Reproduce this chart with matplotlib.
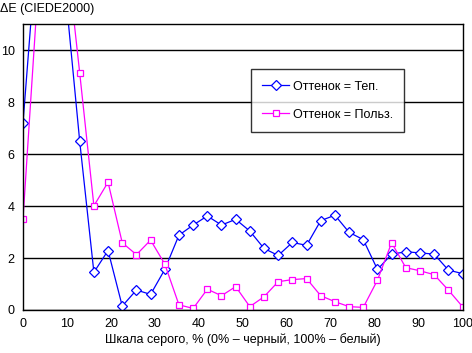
import matplotlib
matplotlib.use("Agg")
import matplotlib.pyplot as plt

plt.rcParams['font.family'] = ['Liberation Sans', 'DejaVu Sans']

# grey level, % (32 steps)
gray = [0, 3.23, 6.45, 9.68, 12.9, 16.13, 19.35, 22.58, 25.81, 29.03, 32.26,
        35.48, 38.71, 41.94, 45.16, 48.39, 51.61, 54.84, 58.06, 61.29, 64.52,
        67.74, 70.97, 74.19, 77.42, 80.65, 83.87, 87.1, 90.32, 93.55, 96.77, 100]

de_tep = [7.2, 14.2, 18.0, 12.2, 6.5, 1.45, 2.29, 0.15, 0.77, 0.6, 1.56,
          2.88, 3.27, 3.62, 3.27, 3.49, 3.04, 2.37, 2.1, 2.6, 2.49,
          3.44, 3.65, 2.99, 2.71, 1.56, 2.15, 2.24, 2.2, 2.15, 1.54, 1.4]

de_user = [3.5, 11.9, 16.0, 14.1, 9.13, 4.01, 4.92, 2.59, 2.13, 2.69, 1.77,
           0.2, 0.06, 0.8, 0.55, 0.9, 0.13, 0.51, 1.09, 1.17, 1.21,
           0.55, 0.32, 0.13, 0.1, 1.15, 2.59, 1.63, 1.51, 1.36, 0.77, 0.13]

labels = ['Оттенок = Теп.', 'Оттенок = Польз.']

fig = plt.figure(figsize=(4.72, 3.53), dpi=100)
ax = fig.add_axes([23 / 472, 1 - 310 / 353, 439.5 / 472, 285.7 / 353])

ax.plot(gray, de_tep, color='#0000FF', lw=0.9, marker='D', ms=5,
        mfc='white', mec='#0000FF', mew=0.9, label=labels[0])
ax.plot(gray, de_user, color='#FF00FF', lw=0.9, marker='s', ms=5,
        mfc='white', mec='#FF00FF', mew=0.9, label=labels[1])

ax.set_xlim(0, 100)
ax.set_ylim(0, 11)
ax.set_xticks(range(0, 101, 10))
ax.set_yticks(range(0, 11, 2))
ax.tick_params(length=0, labelsize=9, pad=6)
ax.yaxis.grid(True, color='black', lw=1)
ax.set_axisbelow(True)
for s in ax.spines.values():
    s.set_color('black')
    s.set_linewidth(1)

ax.set_xlabel('Шкала серого, % (0% – черный, 100% – белый)', fontsize=9, labelpad=2)
fig.text(0.0, 1 - 9 / 353, 'ΔE (CIEDE2000)', fontsize=9, va='center', ha='left')

leg = ax.legend(loc='upper left', bbox_to_anchor=((250.7 - 23) / 439.5, 1 - (69.3 - 24.3) / 285.7),
                fontsize=9, frameon=True, fancybox=False, borderpad=0.9,
                labelspacing=1.3, handlelength=2.2, handletextpad=0.25, borderaxespad=0)
leg.get_frame().set_edgecolor('black')
leg.get_frame().set_linewidth(1)

fig.savefig('out.png', dpi=100)
